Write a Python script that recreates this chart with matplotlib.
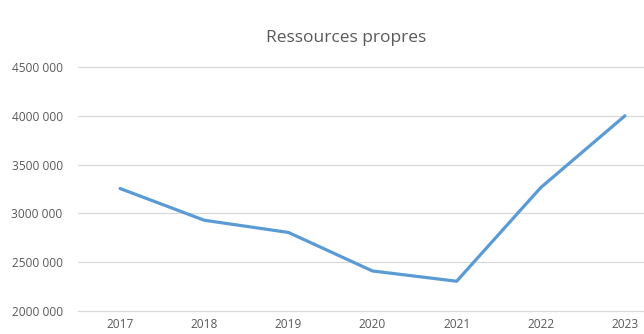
import matplotlib.pyplot as plt
from matplotlib.ticker import FuncFormatter

years = ["2017", "2018", "2019", "2020", "2021", "2022", "2023"]
ressources = [3255000, 2930000, 2805000, 2410000, 2305000, 3265000, 4000000]
y_ticks = [2000000, 2500000, 3000000, 3500000, 4000000, 4500000]

grey = "#595959"

fig = plt.figure(figsize=(6.44, 3.34), dpi=100)
# plot area runs past the right edge of the figure
ax = fig.add_axes([78 / 644, 23 / 334, 589 / 644, 244 / 334])

x = list(range(len(years)))
ax.plot(x, ressources, color="#5B9BD5", linewidth=2.3, solid_capstyle="round",
        solid_joinstyle="round", zorder=3)

ax.set_xlim(-0.5, len(years) - 0.5)
ax.set_ylim(y_ticks[0], y_ticks[-1])
ax.set_xticks(x)
ax.set_xticklabels(years)
ax.set_yticks(y_ticks)


def fmt(v, pos):
    s = f"{int(v):d}"
    return s[:-3] + " " + s[-3:]


ax.yaxis.set_major_formatter(FuncFormatter(fmt))
ax.grid(axis="y", color="#D9D9D9", linewidth=0.9)
ax.set_axisbelow(True)
for gl in ax.get_ygridlines():
    gl.set_clip_on(False)
for sp in ax.spines.values():
    sp.set_visible(False)
ax.tick_params(axis="both", length=0, labelsize=8.6, labelcolor=grey)
ax.tick_params(axis="y", pad=11)
ax.tick_params(axis="x", pad=5)
for lbl in ax.get_xticklabels() + ax.get_yticklabels():
    lbl.set_family("Open Sans")

fig.text(346 / 644, 1 - 38 / 334, "Ressources propres", ha="center", va="center",
         fontsize=12.5, color=grey, family="Open Sans")

fig.savefig("out.png", dpi=100)
